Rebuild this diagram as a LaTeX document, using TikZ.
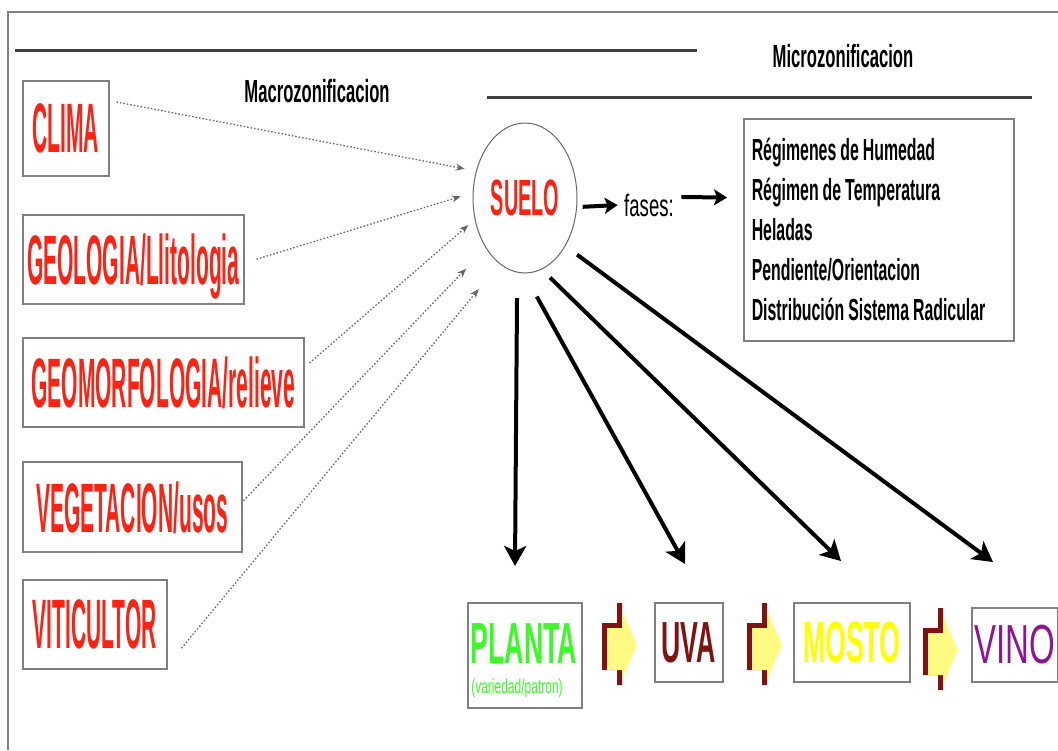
\documentclass[tikz,border=0pt]{standalone}
\usepackage{fontspec}
\usepackage{tikz}
\usetikzlibrary{arrows.meta, shapes.geometric}
\newfontfamily\rojafont[FakeStretch=0.30]{Liberation Sans}
\newfontfamily\suelofont[FakeStretch=0.39]{Liberation Sans}
\newfontfamily\mediafont[FakeStretch=0.46]{Liberation Sans}
\newfontfamily\negrafont[FakeStretch=0.52]{Liberation Sans}
\newfontfamily\anchafont[FakeStretch=0.60]{Liberation Sans}
\newcommand\Espacio{\spaceskip=4pt plus 1pt\relax}
\definecolor{rojo}{RGB}{250,35,20}
\definecolor{verde}{RGB}{60,250,40}
\definecolor{granate}{RGB}{128,18,18}
\definecolor{amarillo}{RGB}{255,255,0}
\definecolor{crema}{RGB}{255,250,130}
\definecolor{morado}{RGB}{140,20,150}
\definecolor{gris}{RGB}{128,128,128}
\tikzset{
  caja/.style={draw=gris, line width=1.5pt, anchor=north west, inner sep=0pt, text depth=0pt},
  roja/.style={caja, text=rojo, font=\rojafont\bfseries\fontsize{70}{70}\selectfont},
  titulo/.style={anchor=base, font=\negrafont\bfseries\fontsize{32}{32}\selectfont},
  punteada/.style={black!60, line width=1.3pt, dash pattern=on 1.5pt off 2pt, -{Stealth[length=9pt,width=7pt]}},
  gruesa/.style={line width=4pt, -{Stealth[length=20pt,width=22pt,inset=5pt]}},
  corta/.style={line width=4pt, -{Stealth[length=13pt,width=16pt,inset=3pt]}},
  flecha/.pic={
    \fill[granate] (15,0) -- (20,0) -- (20,82) -- (15,82) -- (15,67) -- (0,67) -- (0,20) -- (15,20) -- cycle;
    \fill[crema] (5,25) -- (20,25) -- (20,8) -- (35,42) -- (20,76) -- (20,67) -- (5,67) -- cycle;
  }
}
\begin{document}
\begin{tikzpicture}[x=1pt, y=-1pt]
\useasboundingbox (0,0) rectangle (1058,750);
\draw[gris, line width=1.5pt] (8,750) -- (8,12) -- (1058,12);
\draw[black!75, line width=3pt] (15,50) -- (697,50);
\draw[black!75, line width=3pt] (487,97) -- (1032,97);
\node[titulo] at (843,67) (micro) {Microzonificacion};
\node[titulo] at (317,102) (macro) {Macrozonificacion};

% factores
\node[roja, minimum width=86pt, minimum height=95pt] at (22,80) (clima) {CLIMA};
\node[roja, minimum width=221pt, minimum height=89pt] at (22,214) (geologia) {GEOLOGIA/Llitologia};
\node[roja, minimum width=281pt, minimum height=89pt] at (22,337) (geomorf) {GEOMORFOLOGIA/relieve};
\node[roja, minimum width=219pt, minimum height=90pt] at (22,461) (vegetacion) {VEGETACION/usos};
\node[roja, minimum width=144pt, minimum height=89pt] at (22,579) (viticultor) {VITICULTOR};

\node[ellipse, draw=black!60, line width=1pt, minimum width=104pt, minimum height=150pt, inner sep=0pt, outer sep=0pt,
      text depth=0pt, text=rojo, font=\suelofont\bfseries\fontsize{51}{51}\selectfont] at (525,198) (suelo) {SUELO};

\draw[punteada, shorten >=12pt] ([shift={(7,22)}]clima.north east) -- (suelo.151);
\draw[punteada, shorten >=13pt] ([xshift=12pt]geologia.east) -- (suelo.174);
\draw[punteada, shorten >=9pt] ([shift={(5,26)}]geomorf.north east) -- (suelo.203);
\draw[punteada, shorten >=29pt] ([shift={(1,-6)}]vegetacion.east) -- (suelo.232);
\draw[punteada, shorten >=33pt] ([shift={(14,24)}]viticultor.east) -- (suelo.249);

% fases
\node[anchor=base, font=\anchafont\fontsize{31}{31}\selectfont] at (649,216) (fases) {fases:};
\node[draw=gris, line width=1.5pt, anchor=north west, inner sep=0pt, text width=254pt, inner xsep=8pt,
      minimum height=222pt, align=left,
      font=\negrafont\bfseries\fontsize{30.5}{40}\selectfont] at (743,118) (regimenes)
      {\Espacio Régimenes de Humedad\\ Régimen de Temperatura\\ Heladas\\ Pendiente/Orientacion\\ Distribución Sistema Radicular};
\draw[corta, shorten <=6pt, shorten >=3pt] (suelo.-10) -- (fases.west);
\draw[corta, shorten <=4pt, shorten >=16pt] ([yshift=8pt]fases.east) -- ([yshift=32pt]regimenes.west);

\coordinate (p1) at (515,566);
\coordinate (p2) at (685,564);
\coordinate (p3) at (841,561);
\coordinate (p4) at (993,562);
\draw[gruesa, shorten <=26pt] (suelo.264) -- (p1);
\draw[gruesa, shorten <=27pt] (suelo.269) -- (p2);
\draw[gruesa, shorten <=12pt] (suelo.283) -- (p3);
\draw[gruesa, shorten <=15pt] (suelo.310) -- (p4);

% cadena
\node[caja, minimum width=114pt, minimum height=105pt] at (467,602) (planta) {};
\node[anchor=base, text=verde, font=\mediafont\bfseries\fontsize{58}{58}\selectfont] at (524,663) (plantatxt) {PLANTA};
\node[anchor=base, text=verde, font=\anchafont\fontsize{20}{20}\selectfont] at (517,693) (patron) {(variedad/patron)};
\node[caja, minimum width=68pt, minimum height=79pt, text=granate, font=\mediafont\bfseries\fontsize{58}{58}\selectfont] at (654,602) (uva) {UVA};
\node[caja, minimum width=116pt, minimum height=79pt, text=amarillo, font=\mediafont\bfseries\fontsize{58}{58}\selectfont] at (793,602) (mosto) {MOSTO};
\node[caja, minimum width=86pt, minimum height=74pt, text=morado, font=\anchafont\fontsize{55}{55}\selectfont] at (971,607) (vino) {VINO};
\foreach \x/\y in {602/603, 747/603, 923/608}
  \pic at (\x,\y) {flecha};
\end{tikzpicture}
\end{document}
